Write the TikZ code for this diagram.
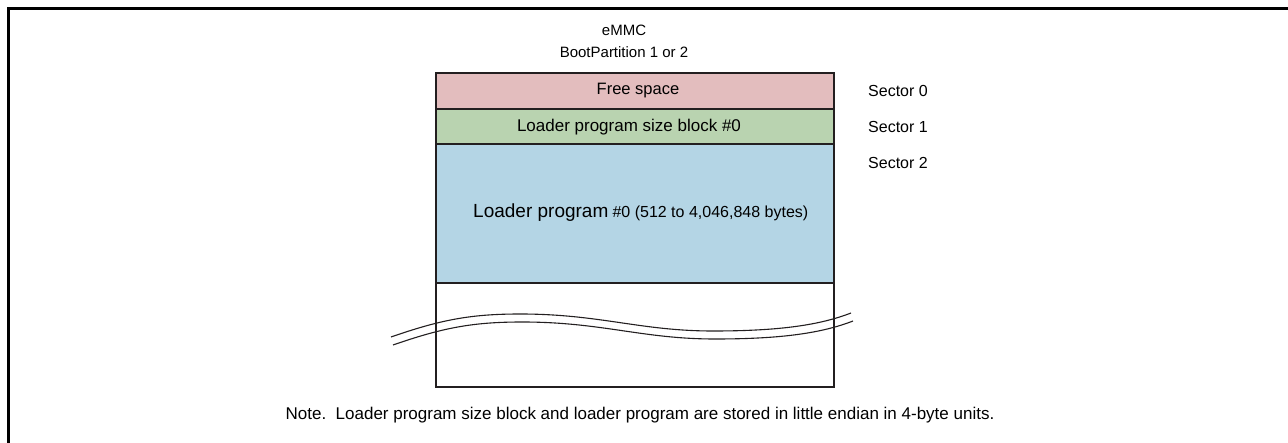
\documentclass[tikz,border=0pt]{standalone}
\usepackage{fontspec}
\setmainfont{Liberation Sans}
\definecolor{freecol}{RGB}{227,189,190}
\definecolor{sizecol}{RGB}{185,211,176}
\definecolor{progcol}{RGB}{180,213,229}
\definecolor{edge}{RGB}{35,31,32}
\tikzset{
  blk/.style={draw=edge, line width=2.4pt, minimum width=398pt, anchor=north west, inner sep=0pt, outer sep=0pt},
  lbl/.style={inner sep=0pt, font=\fontsize{15}{17}\selectfont},
  seclbl/.style={lbl, anchor=west, font=\fontsize{16}{18}\selectfont},
  brk/.style={draw=edge, line width=1.1pt},
}
\begin{document}
\begin{tikzpicture}[x=1pt,y=-1pt]
\useasboundingbox (0,0) rectangle (1288,443);
% frame
\draw[line width=3pt] (8,443) -- (8,9) -- (1288,9);
% titles
\node[lbl] (emmc) at (624,30) {eMMC};
\node[lbl] (boot) at (624,52) {BootPartition 1 or 2};
% blocks
\node[blk, fill=freecol, minimum height=36pt] (free) at (436,73) {};
\node[blk, fill=sizecol, minimum height=35pt] (size) at (436,109) {};
\node[blk, fill=progcol, minimum height=139pt] (prog) at (436,144) {};
\node[blk, fill=white, minimum height=104pt] (rest) at (436,283) {};
% block texts
\node[lbl, font=\fontsize{16.5}{18}\selectfont] (freet) at (638,91) {Free space};
\node[lbl, font=\fontsize{17}{19}\selectfont] (sizet) at (629,127) {Loader program size block \#0};
\node[lbl, anchor=west] (progt) at (473,213) {{\fontsize{19}{21}\selectfont Loader program} {\fontsize{16}{18}\selectfont\#0 (512 to 4,046,848 bytes)}};
% sector labels
\node[seclbl] (s0) at (868,91) {Sector 0};
\node[seclbl] (s1) at (868,127) {Sector 1};
\node[seclbl] (s2) at (868,163) {Sector 2};
% break lines
\draw[brk] (391,337) .. controls (440,320) and (470,314) .. (520,314) .. controls (600,314) and (640,331) .. (713,331) .. controls (780,331) and (820,325) .. (851,313);
\draw[brk] (393,345) .. controls (442,328) and (472,322) .. (522,322) .. controls (602,322) and (642,339) .. (715,339) .. controls (782,339) and (822,333) .. (853,321);
% note
\node[lbl, font=\fontsize{17}{19}\selectfont] (note) at (640,415) {Note.\ \ Loader program size block and loader program are stored in little endian in 4-byte units.};
\end{tikzpicture}
\end{document}
